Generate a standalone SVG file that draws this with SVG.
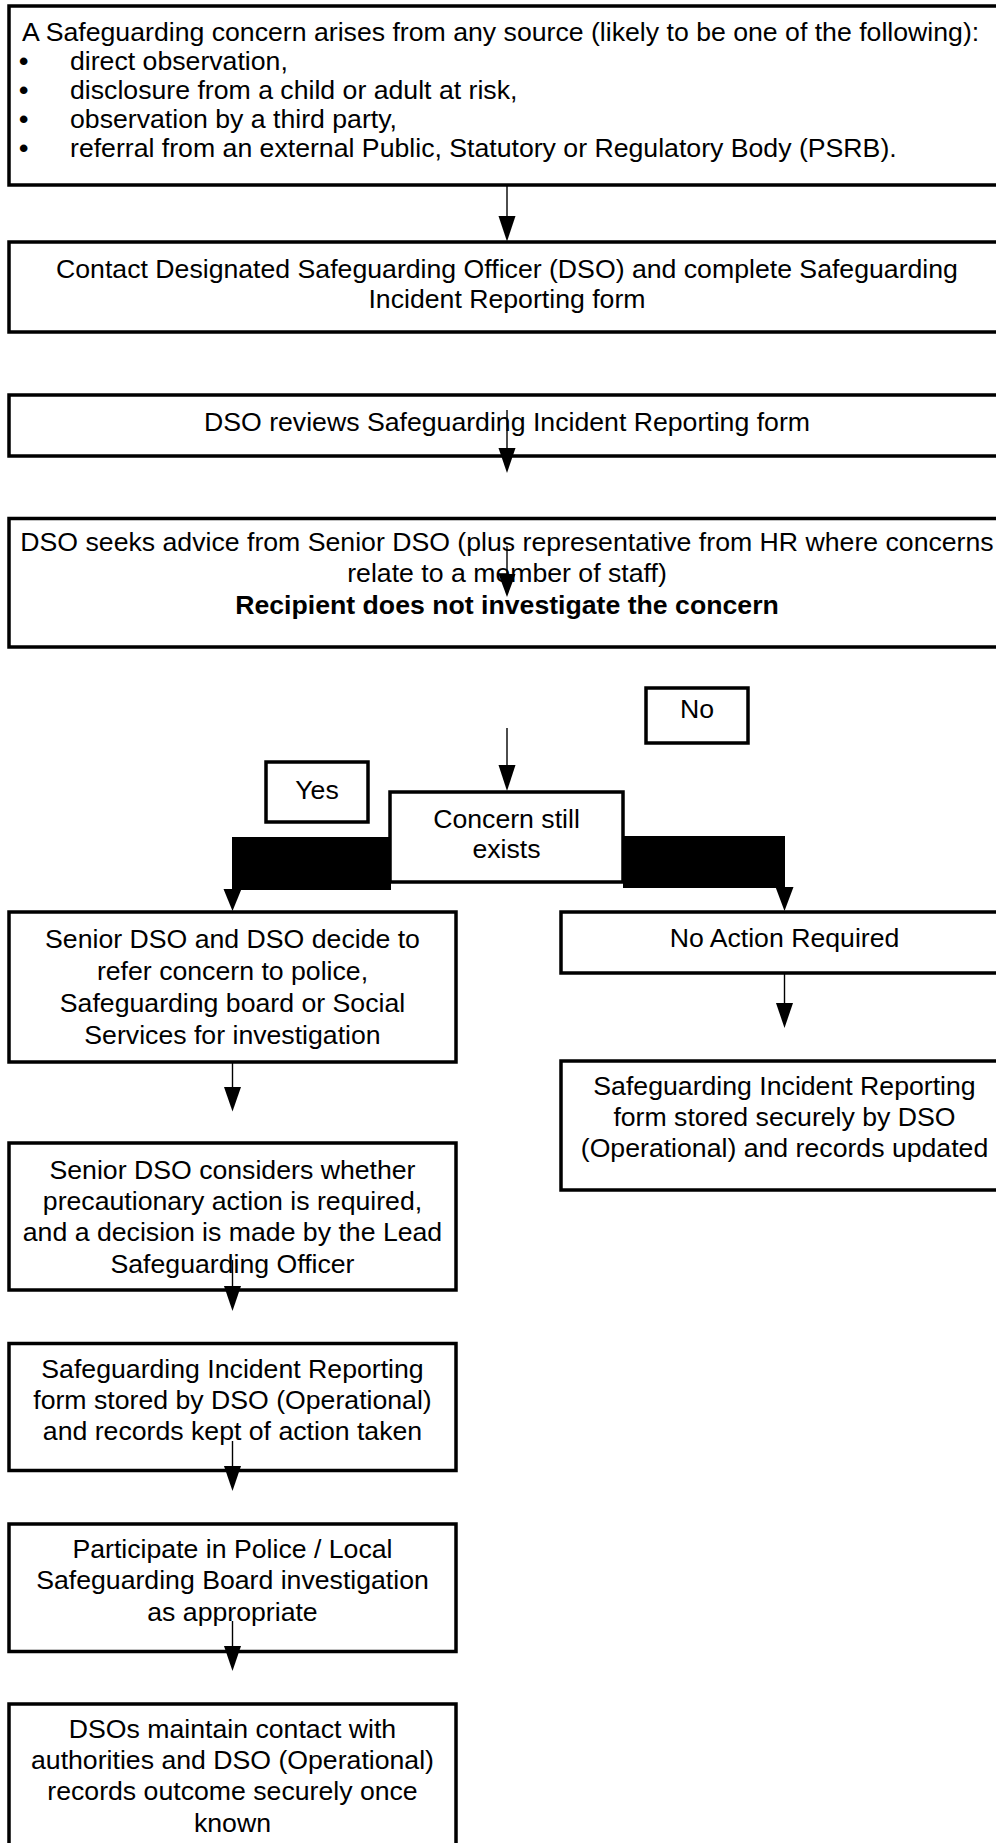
<svg xmlns="http://www.w3.org/2000/svg" width="996" height="1843" viewBox="0 0 996 1843">
<style>
rect.box{fill:#fff;stroke:#000;stroke-width:3.5}
text{font-family:"Liberation Sans",Arial,sans-serif;font-size:26.67px;fill:#000}
text.c{text-anchor:middle}
text.b{font-weight:bold}
text.bul{font-weight:bold}
line.con{stroke:#000;stroke-width:1.4}
polygon.head{fill:#000}
</style>
<rect width="996" height="1843" fill="#fff"/>
<g id="n1">
<rect class="box" x="9" y="6" width="1000" height="179"/>
<text x="22" y="41">A Safeguarding concern arises from any source (likely to be one of the following):</text>
<text class="bul" x="19" y="70">•</text><text x="70" y="70">direct observation,</text>
<text class="bul" x="19" y="99">•</text><text x="70" y="99">disclosure from a child or adult at risk,</text>
<text class="bul" x="19" y="128">•</text><text x="70" y="128">observation by a third party,</text>
<text class="bul" x="19" y="157">•</text><text x="70" y="157">referral from an external Public, Statutory or Regulatory Body (PSRB).</text>
</g>
<g id="n2">
<rect class="box" x="9" y="242" width="1000" height="90"/>
<text class="c" x="507" y="278">Contact Designated Safeguarding Officer (DSO) and complete Safeguarding</text>
<text class="c" x="507" y="308">Incident Reporting form</text>
</g>
<g id="n3">
<rect class="box" x="9" y="395" width="1000" height="61"/>
<text class="c" x="507" y="431">DSO reviews Safeguarding Incident Reporting form</text>
</g>
<g id="n4">
<rect class="box" x="9" y="518.5" width="1000" height="128.5"/>
<text class="c" x="507" y="551">DSO seeks advice from Senior DSO (plus representative from HR where concerns</text>
<text class="c" x="507" y="582">relate to a member of staff)</text>
<text class="c b" x="507" y="614">Recipient does not investigate the concern</text>
</g>
<g id="no-label">
<rect class="box" x="646" y="688" width="102" height="55"/>
<text class="c" x="697" y="718">No</text>
</g>
<g id="yes-label">
<rect class="box" x="266" y="762" width="102" height="60"/>
<text class="c" x="317" y="799">Yes</text>
</g>
<g id="connectors">
<line class="con" x1="507" y1="186" x2="507" y2="220"/>
<polygon class="head" points="498.5,216 515.5,216 507,241.5"/>
<line class="con" x1="507" y1="728" x2="507" y2="768"/>
<polygon class="head" points="498.5,765 515.5,765 507,791"/>
<rect x="232" y="837" width="159" height="53" fill="#000"/>
<polygon class="head" points="223.5,889 241.5,889 232.5,911"/>
<rect x="623" y="836" width="162" height="52" fill="#000"/>
<polygon class="head" points="775.5,887 793.5,887 784.5,911"/>
<line class="con" x1="784.5" y1="973" x2="784.5" y2="1006"/>
<polygon class="head" points="776,1003 793,1003 784.5,1028"/>
<line class="con" x1="232.5" y1="1062" x2="232.5" y2="1090"/>
<polygon class="head" points="224,1087 241,1087 232.5,1111.5"/>
</g>
<g id="n5">
<rect class="box" x="390" y="792" width="233" height="90"/>
<text class="c" x="506.5" y="828">Concern still</text>
<text class="c" x="506.5" y="858">exists</text>
</g>
<g id="n6">
<rect class="box" x="9" y="912" width="447" height="150"/>
<text class="c" x="232.5" y="948">Senior DSO and DSO decide to</text>
<text class="c" x="232.5" y="980">refer concern to police,</text>
<text class="c" x="232.5" y="1012">Safeguarding board or Social</text>
<text class="c" x="232.5" y="1044">Services for investigation</text>
</g>
<g id="n7">
<rect class="box" x="561" y="912" width="450" height="61"/>
<text class="c" x="784.5" y="947">No Action Required</text>
</g>
<g id="n8">
<rect class="box" x="561" y="1061" width="450" height="129"/>
<text class="c" x="784.5" y="1095">Safeguarding Incident Reporting</text>
<text class="c" x="784.5" y="1126">form stored securely by DSO</text>
<text class="c" x="784.5" y="1157">(Operational) and records updated</text>
</g>
<g id="n9">
<rect class="box" x="9" y="1143" width="447" height="147"/>
<text class="c" x="232.5" y="1179">Senior DSO considers whether</text>
<text class="c" x="232.5" y="1210">precautionary action is required,</text>
<text class="c" x="232.5" y="1241">and a decision is made by the Lead</text>
<text class="c" x="232.5" y="1273">Safeguarding Officer</text>
</g>
<g id="n10">
<rect class="box" x="9" y="1343.5" width="447" height="127"/>
<text class="c" x="232.5" y="1378">Safeguarding Incident Reporting</text>
<text class="c" x="232.5" y="1409">form stored by DSO (Operational)</text>
<text class="c" x="232.5" y="1440">and records kept of action taken</text>
</g>
<g id="n11">
<rect class="box" x="9" y="1524" width="447" height="127.5"/>
<text class="c" x="232.5" y="1558">Participate in Police / Local</text>
<text class="c" x="232.5" y="1589">Safeguarding Board investigation</text>
<text class="c" x="232.5" y="1621">as appropriate</text>
</g>
<g id="n12">
<rect class="box" x="9" y="1704" width="447" height="150"/>
<text class="c" x="232.5" y="1738">DSOs maintain contact with</text>
<text class="c" x="232.5" y="1769">authorities and DSO (Operational)</text>
<text class="c" x="232.5" y="1800">records outcome securely once</text>
<text class="c" x="232.5" y="1832">known</text>
</g>
<g id="connectors-over-boxes">
<line class="con" x1="507" y1="410" x2="507" y2="450"/>
<polygon class="head" points="498.5,448 515.5,448 507,473"/>
<line class="con" x1="507" y1="546" x2="507" y2="576"/>
<polygon class="head" points="498.5,574 515.5,574 507,597"/>
<line class="con" x1="232.5" y1="1260" x2="232.5" y2="1290"/>
<polygon class="head" points="224,1286 241,1286 232.5,1311"/>
<line class="con" x1="232.5" y1="1441" x2="232.5" y2="1470"/>
<polygon class="head" points="224,1466 241,1466 232.5,1491"/>
<line class="con" x1="232.5" y1="1621" x2="232.5" y2="1650"/>
<polygon class="head" points="224,1646 241,1646 232.5,1671"/>
</g>
</svg>
